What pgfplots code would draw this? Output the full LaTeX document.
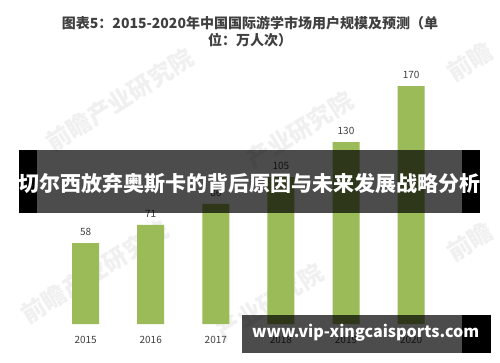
\documentclass[border=0pt]{standalone}
\usepackage{fontspec}
\setmainfont{Noto Sans CJK SC}
\usepackage{pgfplots}
\pgfplotsset{compat=1.18}
\definecolor{bargreen}{HTML}{9BBB59}
\definecolor{txt}{HTML}{404040}
\definecolor{wm}{HTML}{F0F0F0}
\begin{document}
\begin{tikzpicture}[x=1pt,y=1pt]
\useasboundingbox (0,0) rectangle (500,362);
\fill[white] (0,0) rectangle (500,362);
% faint watermarks
\begin{scope}[every node/.style={text=wm,font=\fontsize{24}{24}\selectfont\bfseries}]
\node[rotate=32] at (120,262) {前瞻产业研究院};
\node[rotate=32] at (300,232) {产业研究院};
\node[rotate=32] at (95,90) {前瞻产业研究院};
\node[rotate=32] at (270,60) {产业研究院};
\node[rotate=32] at (470,300) {前瞻};
\node[rotate=32] at (470,120) {前瞻};
\end{scope}
\begin{axis}[at={(81.5,27)}, anchor=south west, scale only axis,
  width=390.6pt, height=280pt,
  xmin=-0.5, xmax=5.5, ymin=0, ymax=200,
  ybar, bar width=27pt,
  hide y axis,
  axis x line=bottom,
  x axis line style={draw=none},
  xtick style={draw=none},
  xtick={0,1,2,3,4,5},
  xticklabels={2015,2016,2017,2018,2019,2020},
  xticklabel style={font=\fontsize{10}{12}\selectfont, text=txt, yshift=-6pt},
  nodes near coords,
  every node near coord/.append style={font=\fontsize{10}{12}\selectfont, text=txt, yshift=4pt},
  /pgf/number format/assume math mode=true,
  clip=false]
\addplot[fill=bargreen, draw=none] coordinates {(0,58) (1,71) (2,86) (3,105) (4,130) (5,170)};
\end{axis}
% title
\node[text=txt, font=\fontsize{14}{17}\selectfont\bfseries] at (250,339) {图表5：2015-2020年中国国际游学市场用户规模及预测（单};
\node[text=txt, font=\fontsize{14}{17}\selectfont\bfseries] at (250,322) {位：万人次）};
% banner
\fill[black] (19,149) rectangle (37,212);
\fill[black] (462,149) rectangle (480,212);
\fill[black, opacity=0.7] (37,149) rectangle (462,212);
\node[text=white, font=\fontsize{21}{21}\selectfont\bfseries, inner sep=0] at (249.5,178.5) {切尔西放弃奥斯卡的背后原因与未来发展战略分析};
% bottom band
\fill[black, opacity=0.7] (242,9) rectangle (462,47);
\fill[black] (462,9) rectangle (491,47);
\node[text=white, anchor=west, inner sep=0] at (252,29) {\resizebox{227pt}{!}{\fontsize{17}{17}\selectfont\bfseries www.vip-xingcaisports.com}};
\end{tikzpicture}
\end{document}
